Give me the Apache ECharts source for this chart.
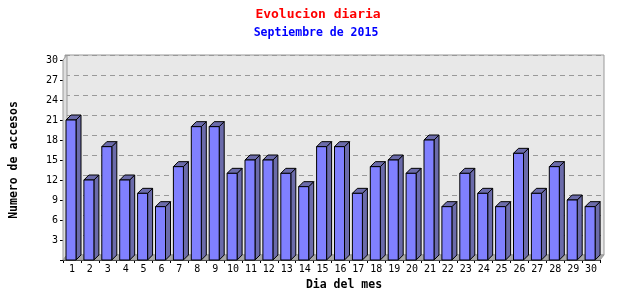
<!DOCTYPE html>
<html><head><meta charset="utf-8">
<script src="https://cdn.jsdelivr.net/npm/echarts@6/dist/echarts.min.js"></script>
<style>html,body{margin:0;padding:0;background:#fff}#c{width:640px;height:300px}</style>
</head><body><div id="c"></div>
<script>
const titleText = 'Evolucion diaria';
const subtitleText = 'Septiembre de 2015';
const xAxisName = 'Dia del mes';
const yAxisName = 'Numero de accesos';
const days = ['1','2','3','4','5','6','7','8','9','10','11','12','13','14','15','16','17','18','19','20','21','22','23','24','25','26','27','28','29','30'];
const accesses = [21,12,17,12,10,8,14,20,20,13,15,15,13,11,17,17,10,14,15,13,18,8,13,10,8,16,10,14,9,8];
const yMin = 0, yMax = 30, yStep = 3;

const DX = 5, DY = 5;
const chart = echarts.init(document.getElementById('c'), null, {renderer: 'canvas'});
const mono = '"DejaVu Sans Mono", monospace';

function renderBar(params, api) {
  const v = api.value(1);
  const top = api.coord([api.value(0), v]);
  const base = api.coord([api.value(0), 0]);
  const bw = api.size([1, 0])[0];
  const x0 = top[0] - bw / 2 + 3;
  const x1 = x0 + Math.round(bw * 0.54);
  const yt = top[1], yb = base[1];
  const st = {stroke: '#000', lineWidth: 1};
  return {type: 'group', children: [
    {type: 'polygon', shape: {points: [[x1, yt], [x1 + DX, yt - DY], [x1 + DX, yb - DY], [x1, yb]]}, style: Object.assign({fill: '#6b6baa'}, st)},
    {type: 'polygon', shape: {points: [[x0, yt], [x0 + DX, yt - DY], [x1 + DX, yt - DY], [x1, yt]]}, style: Object.assign({fill: '#6b6baa'}, st)},
    {type: 'rect', shape: {x: x0, y: yt, width: x1 - x0, height: yb - yt}, style: Object.assign({fill: '#8080ff'}, st)}
  ]};
}

function renderBox(params, api) {
  const cs = params.coordSys;
  const x = cs.x, y = cs.y, w = cs.width, h = cs.height;
  return {type: 'group', children: [
    {type: 'polygon', shape: {points: [[x, y], [x + DX - 1, y - DY], [x + DX - 1, y + h - DY], [x, y + h]]}, style: {fill: '#dedede', stroke: '#999', lineWidth: 1}},
    {type: 'polygon', shape: {points: [[x, y + h], [x + DX - 1, y + h - DY], [x + w + DX - 1, y + h - DY], [x + w, y + h]]}, style: {fill: '#a8a8a8', stroke: '#999', lineWidth: 1}}
  ]};
}

chart.setOption({
  animation: false,
  title: [
    {text: titleText, left: 313, top: 3, textAlign: 'center', textStyle: {color: '#ff0000', fontFamily: mono, fontWeight: 'bold', fontSize: 13}},
    {text: subtitleText, left: 311, top: 22, textAlign: 'center', textStyle: {color: '#0000ff', fontFamily: mono, fontWeight: 'bold', fontSize: 11.5}}
  ],
  grid: [
    {left: 65, right: 36, top: 55, bottom: 45, show: true, backgroundColor: '#e8e8e8', borderColor: '#999', borderWidth: 1},
    {left: 61, right: 40, top: 60, bottom: 40}
  ],
  xAxis: [
    {gridIndex: 0, type: 'category', data: days, show: false},
    {gridIndex: 1, type: 'category', data: days,
      name: xAxisName, nameLocation: 'middle', nameGap: 15,
      nameTextStyle: {fontFamily: mono, fontWeight: 'bold', fontSize: 11.5, color: '#000', padding: [0, 0, 0, 25]},
      axisLine: {lineStyle: {color: '#000'}},
      axisTick: {show: true, length: 3, interval: 0, lineStyle: {color: '#000'}},
      axisLabel: {interval: 0, margin: 4, color: '#000', fontFamily: mono, fontSize: 10},
      splitLine: {show: false}}
  ],
  yAxis: [
    {gridIndex: 0, type: 'value', min: yMin, max: yMax, interval: yStep,
      axisLine: {show: false}, axisTick: {show: false}, axisLabel: {show: false},
      splitLine: {show: true, lineStyle: {color: '#999', type: [5, 4]}}},
    {gridIndex: 1, type: 'value', min: yMin, max: yMax, interval: yStep,
      name: yAxisName, nameLocation: 'middle', nameGap: 43, nameRotate: 90,
      nameTextStyle: {fontFamily: mono, fontWeight: 'bold', fontSize: 11.5, color: '#000'},
      axisLine: {show: true, lineStyle: {color: '#000'}},
      axisTick: {show: true, length: 3, lineStyle: {color: '#000'}},
      axisLabel: {margin: 5, color: '#000', fontFamily: mono, fontSize: 10, formatter: v => v === 0 ? '' : String(v)},
      splitLine: {show: false}}
  ],
  series: [
    {type: 'custom', xAxisIndex: 1, yAxisIndex: 1, z: 1, data: [[0, 0]], renderItem: renderBox, silent: true},
    {type: 'custom', xAxisIndex: 1, yAxisIndex: 1, z: 3, data: accesses.map((v, i) => [i, v]), renderItem: renderBar}
  ]
});
</script></body></html>
